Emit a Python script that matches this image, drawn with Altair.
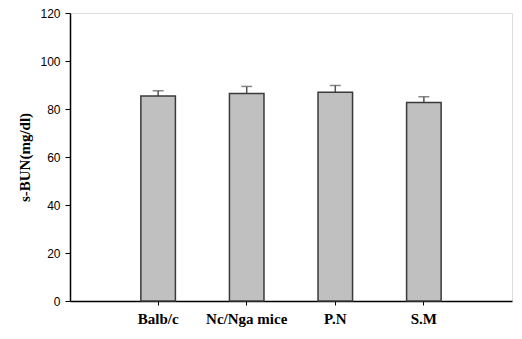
import altair as alt
import pandas as pd

groups = ["Balb/c", "Nc/Nga mice", "P.N", "S.M"]
means = [85.4, 86.5, 87.0, 82.7]
errors = [2.2, 2.9, 2.8, 2.4]

df = pd.DataFrame({"group": groups, "mean": means, "err": errors})
df["upper"] = df["mean"] + df["err"]

x = alt.X("group:N", sort=groups,
          scale=alt.Scale(paddingInner=0.61, paddingOuter=0.8),
          axis=alt.Axis(title=None, labelAngle=0, labelFont="Liberation Serif",
                        labelFontWeight="bold", labelFontSize=15, labelColor="black",
                        labelPadding=6, tickSize=4, tickColor="black",
                        domainColor="black", domainWidth=1.5))
y_axis = alt.Axis(title="s-BUN(mg/dl)", values=[0, 20, 40, 60, 80, 100, 120],
                  titleFont="Liberation Serif", titleFontWeight="bold", titleFontSize=15,
                  titleColor="black", titlePadding=7,
                  labelFont="Liberation Sans", labelFontSize=12, labelColor="black",
                  labelPadding=5, tickSize=5, tickColor="black", domainColor="black",
                  domainWidth=1.5, grid=False)

base = alt.Chart(df)
err = base.mark_rule(color="#555555", strokeWidth=1.5).encode(
    x=x, y=alt.Y("mean:Q", scale=alt.Scale(domain=[0, 120]), axis=y_axis), y2="upper:Q")
cap = base.mark_tick(color="#555555", size=11, thickness=1.5).encode(
    x=x, y=alt.Y("upper:Q"))
bars = base.mark_bar(color="#c0c0c0", stroke="#3a3a3a", strokeWidth=1.5).encode(
    x=x, y=alt.Y("mean:Q", scale=alt.Scale(domain=[0, 120]), axis=y_axis))

chart = alt.layer(err, cap, bars).properties(
    width=442, height=288,
    autosize=alt.AutoSizeParams(type="none"),
    padding={"left": 62, "top": 5, "right": 2, "bottom": 30},
).configure_view(stroke="black", strokeWidth=1.5).configure(background="white")

chart.save("out.html", embed_options={"renderer": "svg", "actions": False})
